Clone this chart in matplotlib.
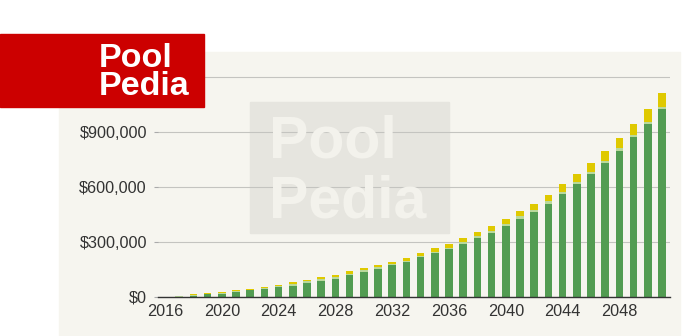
import matplotlib.pyplot as plt
from matplotlib.patches import Rectangle
from matplotlib.ticker import FuncFormatter

plt.rcParams['font.family'] = ['Liberation Sans', 'DejaVu Sans']

# Saldo proyectado por año (en miles de dólares)
years = list(range(2017, 2052))
principal = [2, 8, 14, 19, 27, 36, 42, 53, 62, 76, 86, 100, 118, 136, 151, 172,
             191, 217, 238, 260, 290, 322, 351, 385, 428, 464, 508, 562, 615,
             671, 729, 798, 871, 944, 1024]
aportes = [3, 4, 4, 5, 6, 4, 6, 8, 10, 10, 11, 10, 10, 10, 10, 7, 8, 8, 8, 9,
           10, 10, 10, 12, 12, 13, 13, 12, 14, 13, 14, 16, 13, 12, 14]
intereses = [2, 3, 2, 3, 4, 4, 5, 6, 8, 8, 10, 10, 12, 12, 14, 14, 15, 15, 19,
             22, 22, 21, 26, 30, 29, 30, 36, 41, 42, 45, 53, 55, 60, 68, 76]
year_ticks = [2016, 2020, 2024, 2028, 2032, 2036, 2040, 2044, 2048]
y_ticks = [0, 300000, 600000, 900000, 1200000]

principal = [v * 1000 for v in principal]
aportes = [v * 1000 for v in aportes]
intereses = [v * 1000 for v in intereses]
bottom2 = [a + b for a, b in zip(principal, aportes)]

bg = '#f6f5ef'
fig = plt.figure(figsize=(7, 3.36), dpi=100, facecolor='white')

# panel de fondo
fig.add_artist(Rectangle((59 / 700, 0), 621 / 700, 284 / 336,
                         transform=fig.transFigure, color=bg, zorder=-5))

ax = fig.add_axes([158 / 700, 39 / 336, 512 / 700, 238.33 / 336])
ax.set_facecolor('none')

# marca de agua
ax.add_artist(Rectangle((250 / 700, 103 / 336), 199 / 700, 131 / 336,
                        transform=fig.transFigure, color='#e6e5df', zorder=0))
fig.text(269 / 700, (336 - 157) / 336, 'Pool', fontsize=42.5, weight='bold',
         color='#f3f2ec', zorder=1)
fig.text(269 / 700, (336 - 218) / 336, 'Pedia', fontsize=42.5, weight='bold',
         color='#f3f2ec', zorder=1)

w = 0.53
ax.bar(years, principal, width=w, color='#529c52', zorder=3)
ax.bar(years, aportes, width=w, bottom=principal, color='#b9d99b', zorder=3)
ax.bar(years, intereses, width=w, bottom=bottom2, color='#dfc900', zorder=3)

ax.set_xlim(2015.51, 2051.56)
ax.set_ylim(0, 1300000)
ax.set_xticks(year_ticks)
ax.set_yticks(y_ticks)
ax.yaxis.set_major_formatter(FuncFormatter(
    lambda v, p: '' if v >= 1200000 else '${:,.0f}'.format(v)))
ax.grid(axis='y', color='#c4c4c0', linewidth=0.8, zorder=2)
ax.set_axisbelow(False)
for s in ['top', 'right', 'left']:
    ax.spines[s].set_visible(False)
ax.spines['bottom'].set_color('#333333')
ax.spines['bottom'].set_linewidth(1.0)
ax.spines['bottom'].set_zorder(4)
ax.tick_params(axis='x', length=0, pad=5, labelsize=11.7, labelcolor='#333333')
ax.tick_params(axis='y', length=3, color='#aaaaaa', pad=5, labelsize=11.7,
               labelcolor='#333333')

# logo
fig.add_artist(Rectangle((0, 229 / 336), 204 / 700, 73 / 336,
                         transform=fig.transFigure, color='#cc0000', zorder=10))
fig.text(99 / 700, (336 - 67) / 336, 'Pool', fontsize=24.5, weight='bold',
         color='white', zorder=11)
fig.text(99 / 700, (336 - 95) / 336, 'Pedia', fontsize=24.5, weight='bold',
         color='white', zorder=11)

fig.savefig('out.png', dpi=100, facecolor='white')
